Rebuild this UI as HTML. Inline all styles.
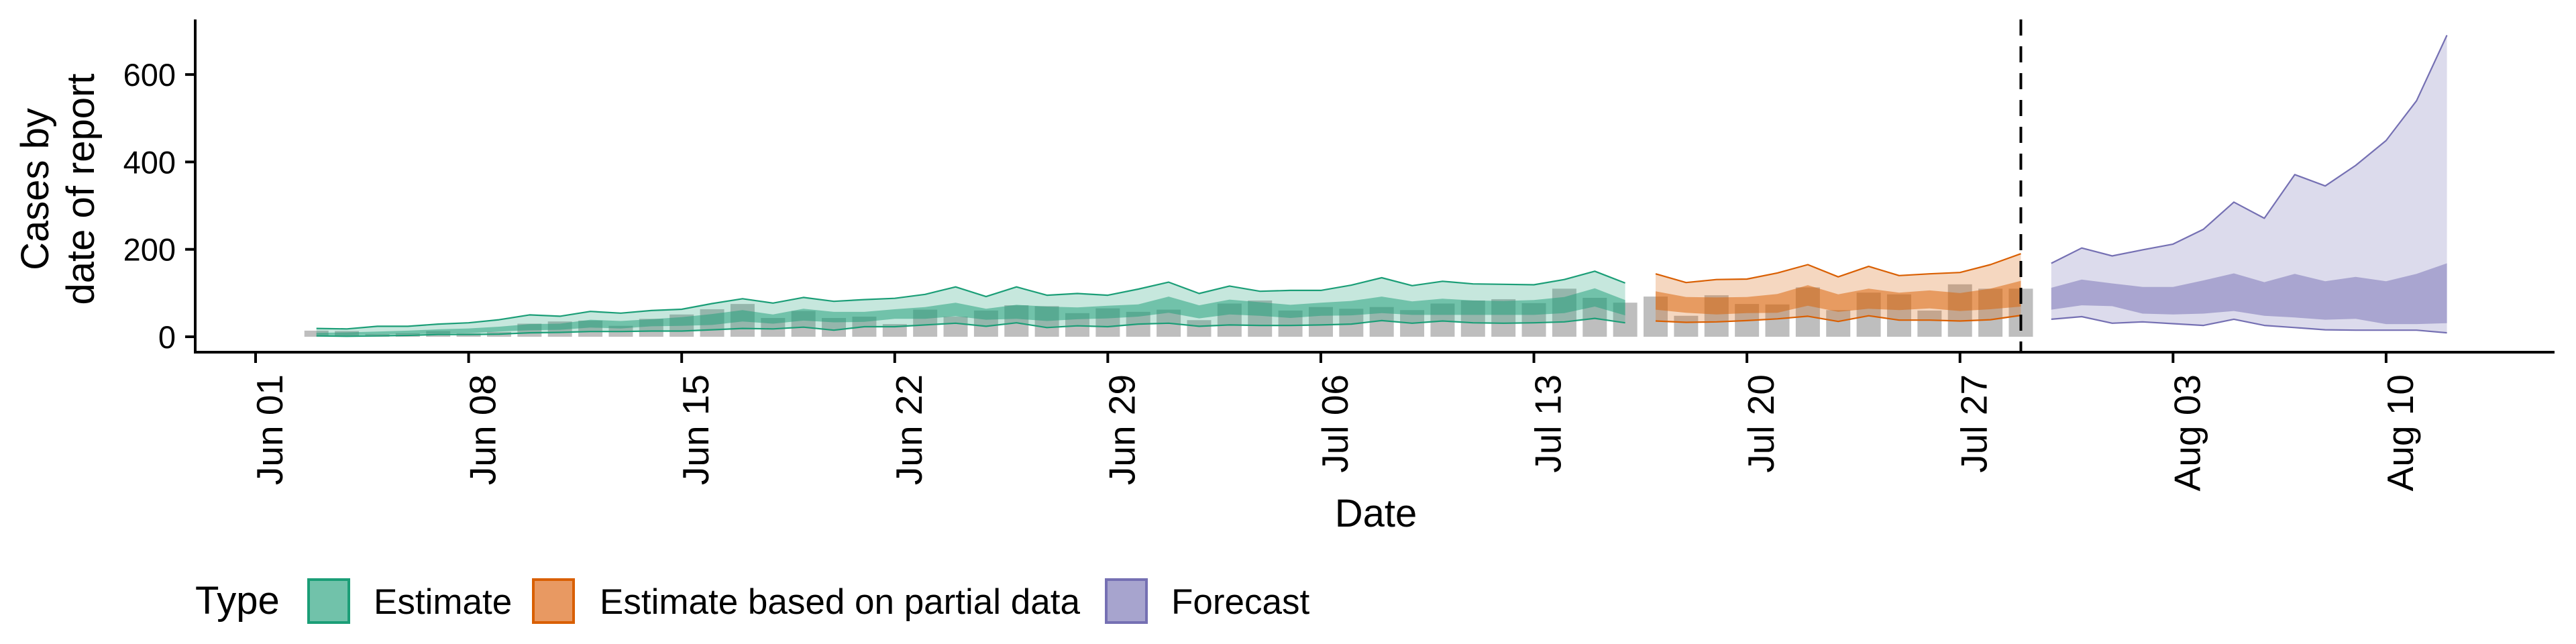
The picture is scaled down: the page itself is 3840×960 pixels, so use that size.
<!DOCTYPE html>
<html><head><meta charset="utf-8"><style>
html,body{margin:0;padding:0;background:#fff;}
svg{display:block;font-family:"Liberation Sans",Arial,sans-serif;}
</style></head><body>
<svg id="chart" width="3840" height="960" viewBox="0 0 3840 960" xmlns="http://www.w3.org/2000/svg">
<g id="bars"></g>
<g id="ribbons"></g>
<g id="axes"></g>
<g font-size="58" fill="#000" text-anchor="middle">
<text transform="translate(72,282) rotate(-90)">Cases by</text>
<text transform="translate(140,282) rotate(-90)">date of report</text>
</g>
<text x="2051" y="785" font-size="58" text-anchor="middle">Date</text>
<g font-size="53">
<text x="291" y="915" font-size="58">Type</text>
<g>
<rect x="460" y="864" width="60" height="64" fill="rgb(113,194,170)" stroke="#1b9e77" stroke-width="4"/>
<text x="557" y="915">Estimate</text></g>
<g>
<rect x="795" y="864" width="60" height="64" fill="rgb(232,153,98)" stroke="#d95f02" stroke-width="4"/>
<text x="894" y="915">Estimate based on partial data</text></g>
<g>
<rect x="1649" y="864" width="60" height="64" fill="rgb(167,164,206)" stroke="#7570b3" stroke-width="4"/>
<text x="1746" y="915">Forecast</text></g>
</g>
</svg>
<script>
// day indices are days since Jun 01
const barStart = 2;
const barValues = [14,13,6,8,13,8,11,30,35,37,25,41,51,63,75,43,59,43,46,29,62,46,
60,72,70,54,65,57,62,38,76,83,60,68,64,68,61,76,83,86,77,110,89,78,92,
48,95,75,74,113,61,101,97,60,120,110,110];
const estStart = 2;
const estUpper = [19,18,24,24,29,32,39,50,47,58,54,60,63,76,87,77,90,81,85,88,97,114,92,114,95,99,95,109,125,99,116,104,106,106,118,135,117,127,121,120,119,131,150,123];
const estLower = [2,1,2,3,5,5,6,9,10,12,12,13,13,16,19,18,22,15,23,23,27,31,24,32,21,25,23,29,31,24,27,26,26,27,29,37,31,36,32,31,32,34,42,32];
const estInnerUpper = [9,10,12,14,17,19,23,29,30,39,36,40,45,52,61,51,64,57,57,63,68,78,64,73,69,67,71,74,92,72,85,79,73,78,82,92,81,87,83,82,84,91,111,84];
const estInnerLower = [4,3,5,6,7,8,12,15,16,21,19,24,25,27,35,30,37,33,34,41,41,47,39,41,36,40,42,46,55,42,51,48,43,48,49,54,50,50,50,50,50,54,69,49];
const partStart = 46;
const partUpper = [144,124,131,132,146,165,137,161,140,144,147,165,190];
const partLower = [36,33,34,37,41,47,35,48,38,38,36,39,49];
const partInnerUpper = [104,91,90,91,98,118,97,110,101,106,100,110,128];
const partInnerLower = [62,55,51,54,55,71,57,64,61,65,59,63,69];
const foreStart = 59;
const foreUpper = [168,203,185,199,212,246,308,271,371,345,392,449,540,690];
const foreLower = [40,46,31,34,30,26,40,26,21,16,15,15,15,9];
const foreInnerUpper = [112,131,122,114,114,129,145,125,144,127,137,127,144,168];
const foreInnerLower = [62,72,70,53,51,53,59,48,44,39,41,29,29,31];
const yTicks = [0,200,400,600];
const xTickDays = [0,7,14,21,28,35,42,49,56,63,70];
const xTickLabels = ["Jun 01","Jun 08","Jun 15","Jun 22","Jun 29","Jul 06","Jul 13","Jul 20","Jul 27","Aug 03","Aug 10"];
const forecastDay = 58;

const NS = "http://www.w3.org/2000/svg";
function X(d){ return 381 + 45.37*d; }
function Y(v){ return 502 - 0.6515*v; }
function mk(tag, attrs, parent){
  const e = document.createElementNS(NS, tag);
  for (const k in attrs) e.setAttribute(k, attrs[k]);
  parent.appendChild(e); return e;
}
const gBars = document.getElementById('bars');
barValues.forEach((v,i)=>{
  const d = barStart + i;
  const r = mk('rect', {x: X(d)-18, y: Y(v), width: 36, height: Y(0)-Y(v), fill: '#bebebe'}, gBars);
  
  
});
const gR = document.getElementById('ribbons');
function band(start, up, lo, fill, op, name){
  let p = '';
  up.forEach((v,i)=>{ p += (i?'L':'M') + X(start+i).toFixed(1) + ',' + Y(v).toFixed(1); });
  for (let i = lo.length-1; i >= 0; i--) p += 'L' + X(start+i).toFixed(1) + ',' + Y(lo[i]).toFixed(1);
  const e = mk('path', {d: p+'Z', fill: fill, 'fill-opacity': op}, gR);
  
  
}
function line(start, vals, col, w, name){
  let p = '';
  vals.forEach((v,i)=>{ p += (i?'L':'M') + X(start+i).toFixed(1) + ',' + Y(v).toFixed(1); });
  const e = mk('path', {d: p, fill: 'none', stroke: col, 'stroke-width': w, 'stroke-linejoin': 'round'}, gR);
  
  
}
const series = [
  [estStart, estUpper, estLower, estInnerUpper, estInnerLower, '#1b9e77', 'estimate'],
  [partStart, partUpper, partLower, partInnerUpper, partInnerLower, '#d95f02', 'partial'],
  [foreStart, foreUpper, foreLower, foreInnerUpper, foreInnerLower, '#7570b3', 'forecast']
];
series.forEach(s=>{
  band(s[0], s[1], s[2], s[5], 0.25, s[6]+'-outer-band');
  band(s[0], s[3], s[4], s[5], 0.5, s[6]+'-inner-band');
  line(s[0], s[1], s[5], 2.2, s[6]+'-upper-line');
  line(s[0], s[2], s[5], 2.2, s[6]+'-lower-line');
});
const gA = document.getElementById('axes');
const dash = mk('line', {x1: X(forecastDay), x2: X(forecastDay), y1: 29, y2: 525, stroke: '#000', 'stroke-width': 4, 'stroke-dasharray': '24 16'}, gA);


const ya = mk('line', {x1: 291, x2: 291, y1: 29, y2: 527, stroke: '#000', 'stroke-width': 4}, gA);


const xa = mk('line', {x1: 289, x2: 3808, y1: 525, y2: 525, stroke: '#000', 'stroke-width': 4}, gA);


yTicks.forEach(v=>{
  const t = mk('line', {x1: 276, x2: 291, y1: Y(v), y2: Y(v), stroke: '#000', 'stroke-width': 4}, gA);
  
  
  const l = mk('text', {x: 262, y: Y(v)+17, 'font-size': 47, 'text-anchor': 'end', fill: '#000'}, gA);
  l.textContent = String(v);
  
  
});
xTickDays.forEach((d,i)=>{
  const t = mk('line', {x1: X(d), x2: X(d), y1: 525, y2: 541, stroke: '#000', 'stroke-width': 4}, gA);
  
  
  const l = mk('text', {transform: 'translate(' + (X(d)+40) + ',558) rotate(-90)', 'font-size': 55, 'text-anchor': 'end', fill: '#000'}, gA);
  l.textContent = xTickLabels[i];
  
  
});
</script>
</body></html>
